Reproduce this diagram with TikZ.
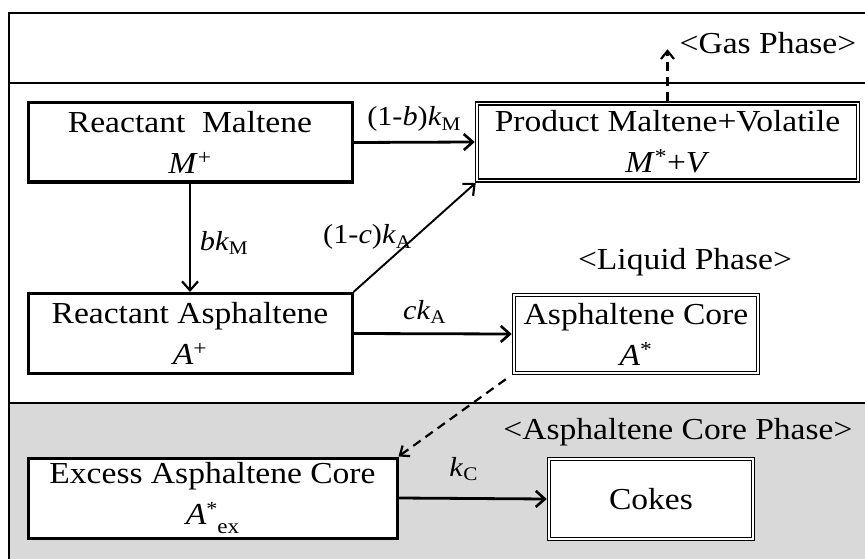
\documentclass[tikz,border=0pt]{standalone}
\usepackage{fontspec}
\setmainfont{Liberation Serif}[FakeStretch=1.1]
\usetikzlibrary{arrows.meta}
\newcommand{\ital}[1]{\textit{#1}}
\begin{document}
\begin{tikzpicture}[x=1pt,y=-1pt,
  boxtext/.style={font=\fontsize{30.5}{41}\selectfont, align=center, inner sep=0pt, fill=white},
  single/.style={boxtext, draw, line width=3pt},
  dbl/.style={boxtext, draw, line width=1.5pt},
  inner/.style={line width=1.5pt},
  lbl/.style={font=\fontsize{27.5}{32}\selectfont, inner sep=0pt},
  phase/.style={font=\fontsize{30.5}{36}\selectfont, inner sep=0pt},
  flow/.style={line width=2.8pt, -{Straight Barb[length=9pt,width=16pt,line width=2.6pt]}},
  thinflow/.style={line width=1.9pt, -{Straight Barb[length=9pt,width=16pt,line width=2.2pt]}},
  dflow/.style={line width=2.2pt, dash pattern=on 9pt off 6pt, -{Straight Barb[length=8pt,width=13pt,line width=2.2pt]}}
]
\useasboundingbox (0,0) rectangle (865,559);
% phases
\fill[gray!30] (9,403) rectangle (880,580);
\draw[line width=1.4pt] (880,13) -- (9,13) -- (9,580);
\draw[line width=1.4pt] (9,83) -- (880,83);
\draw[line width=1.4pt] (9,403) -- (880,403);

\node[phase] (gas) at (768,43) {<Gas Phase>};
\node[phase] (liq) at (685,262) {<Liquid Phase>};
\node[phase] (core) at (678,432) {<Asphaltene Core Phase>};

% boxes
\node[single, minimum width=324pt, minimum height=79pt] (RM) at (190,142.5)
  {Reactant~~Maltene\\\ital{M}\textsuperscript{+}};
\node[dbl, minimum width=384pt, minimum height=80pt] (PM) at (667.5,142)
  {Product Maltene+Volatile\\\ital{M}\textsuperscript{*}+\ital{V}};
\node[single, minimum width=324pt, minimum height=80pt] (RA) at (190,333.5)
  {Reactant Asphaltene\\\ital{A}\textsuperscript{+}};
\node[dbl, minimum width=247pt, minimum height=81pt] (AC) at (636,334)
  {Asphaltene Core\\\ital{A}\textsuperscript{*}};
\node[single, minimum width=369pt, minimum height=80pt] (EA) at (212.5,498)
  {Excess Asphaltene Core\\\ital{A}\raisebox{9pt}{\fontsize{20}{22}\selectfont *}\raisebox{-9pt}{\fontsize{21}{23}\selectfont ex}};
\node[dbl, minimum width=207pt, minimum height=83pt] (CK) at (651,499)
  {Cokes};
\foreach \n in {PM,AC,CK}
  \draw[inner] ([shift={(3.8pt,-3.8pt)}]\n.north west) rectangle ([shift={(-3.8pt,3.8pt)}]\n.south east);

% connectors
\draw[flow] (RM.east) -- (PM.west) node[lbl, midway, above=9pt] {(1-\ital{b})\ital{k}\textsubscript{M}};
\draw[thinflow] (RM.south) -- (RA.north) node[lbl, pos=0.55, right=9pt] {\ital{bk}\textsubscript{M}};
\draw[thinflow] (RA.north east) -- ([xshift=1pt]PM.south west) node[lbl, pos=0.5, left=2pt] {(1-\ital{c})\ital{k}\textsubscript{A}};
\draw[flow] (RA.east) -- (AC.west) node[lbl, pos=0.45, above=9pt] {\ital{ck}\textsubscript{A}};
\draw[dflow] ([xshift=-6pt,yshift=-4pt]AC.south west) -- (EA.north east);
\draw[flow] (EA.east) -- (CK.west) node[lbl, pos=0.44, above=16pt] {\ital{k}\textsubscript{C}};
\draw[dflow] (PM.north) -- ++(0,-52) coordinate (gastip);
\end{tikzpicture}
\end{document}
